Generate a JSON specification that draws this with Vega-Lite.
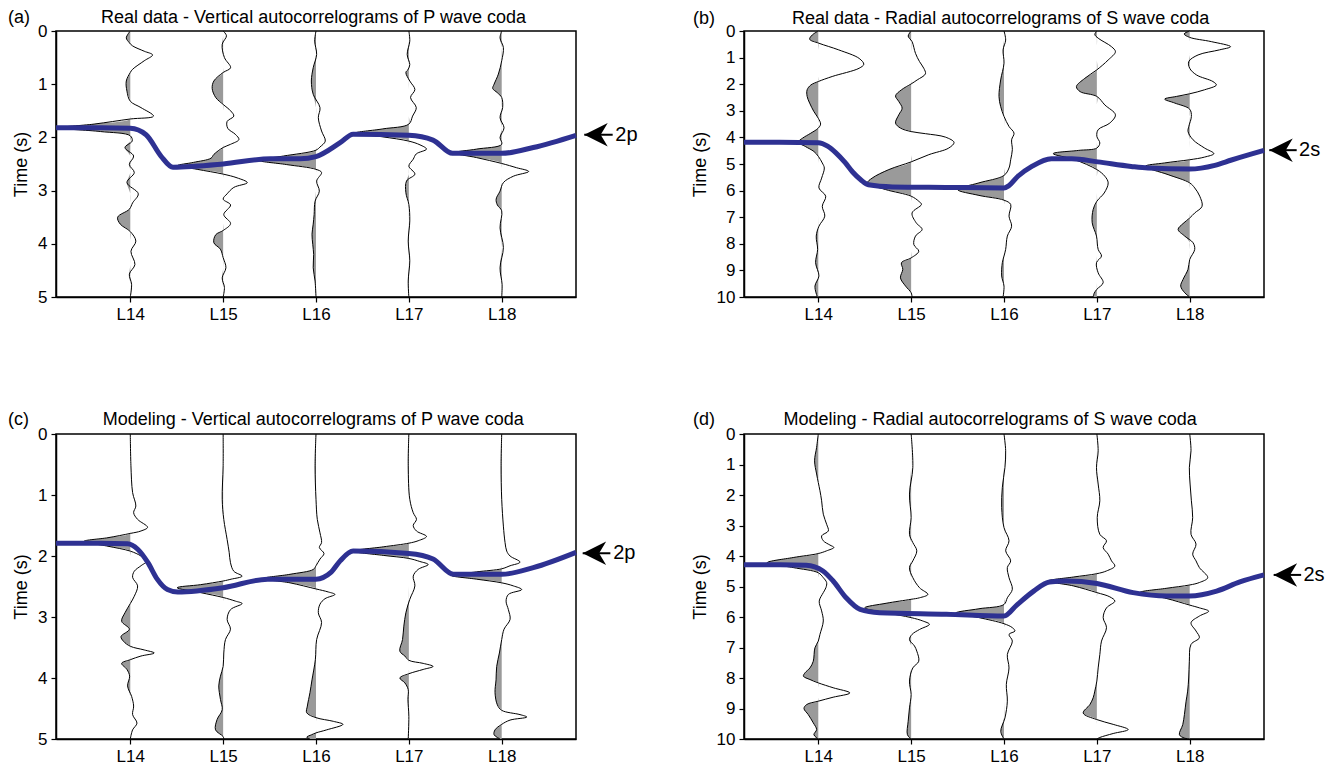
{
"$schema":"https://vega.github.io/schema/vega-lite/v6.json",
"padding":{"left":7,"top":8,"right":5,"bottom":5},
"bounds":"flush",
"columns":2,
"spacing":{"row":137,"column":168},
"config":{
 "font":"Liberation Sans",
 "view":{"stroke":"black","strokeWidth":1.5},
 "axis":{"grid":false,"labelFontSize":17,"labelColor":"black","titleFontSize":18,"titleFontWeight":"normal","titleColor":"black","domainColor":"black","domainWidth":1.5,"tickColor":"black","tickWidth":1.2,"tickSize":5,"labelPadding":4,"titlePadding":7}
},
"datasets":{
"tr":[
{"p":"a","s":14,"t":0,"a":0},{"p":"a","s":14,"t":0.13,"a":-0.043},{"p":"a","s":14,"t":0.22,"a":-0.01},{"p":"a","s":14,"t":0.28,"a":0.025},{"p":"a","s":14,"t":0.38,"a":0.15},{"p":"a","s":14,"t":0.45,"a":0.24},{"p":"a","s":14,"t":0.56,"a":0.15},{"p":"a","s":14,"t":0.72,"a":0.025},{"p":"a","s":14,"t":0.78,"a":0},{"p":"a","s":14,"t":0.94,"a":-0.043},{"p":"a","s":14,"t":1.13,"a":-0.036},{"p":"a","s":14,"t":1.32,"a":0},{"p":"a","s":14,"t":1.44,"a":0.115},{"p":"a","s":14,"t":1.6,"a":0.25},{"p":"a","s":14,"t":1.654,"a":0},{"p":"a","s":14,"t":1.75,"a":-0.39},{"p":"a","s":14,"t":1.82,"a":-0.76},{"p":"a","s":14,"t":1.89,"a":-0.32},{"p":"a","s":14,"t":1.97,"a":0},{"p":"a","s":14,"t":2.07,"a":0.02},{"p":"a","s":14,"t":2.19,"a":-0.057},{"p":"a","s":14,"t":2.35,"a":0.036},{"p":"a","s":14,"t":2.51,"a":-0.01},{"p":"a","s":14,"t":2.66,"a":0.043},{"p":"a","s":14,"t":2.85,"a":-0.036},{"p":"a","s":14,"t":3.06,"a":0.086},{"p":"a","s":14,"t":3.23,"a":0.025},{"p":"a","s":14,"t":3.35,"a":-0.01},{"p":"a","s":14,"t":3.5,"a":-0.136},{"p":"a","s":14,"t":3.63,"a":-0.108},{"p":"a","s":14,"t":3.77,"a":0},{"p":"a","s":14,"t":3.95,"a":0.06},{"p":"a","s":14,"t":4.14,"a":0.007},{"p":"a","s":14,"t":4.39,"a":0.05},{"p":"a","s":14,"t":4.57,"a":-0.01},{"p":"a","s":14,"t":4.76,"a":0.014},{"p":"a","s":14,"t":5,"a":0},
{"p":"a","s":15,"t":0,"a":0},{"p":"a","s":15,"t":0.09,"a":0.036},{"p":"a","s":15,"t":0.25,"a":-0.01},{"p":"a","s":15,"t":0.5,"a":0.014},{"p":"a","s":15,"t":0.69,"a":0.08},{"p":"a","s":15,"t":0.78,"a":0},{"p":"a","s":15,"t":0.94,"a":-0.1},{"p":"a","s":15,"t":1.08,"a":-0.118},{"p":"a","s":15,"t":1.25,"a":-0.08},{"p":"a","s":15,"t":1.38,"a":0},{"p":"a","s":15,"t":1.5,"a":0.08},{"p":"a","s":15,"t":1.6,"a":0.115},{"p":"a","s":15,"t":1.7,"a":0.043},{"p":"a","s":15,"t":1.83,"a":0.05},{"p":"a","s":15,"t":1.94,"a":0.13},{"p":"a","s":15,"t":2.04,"a":0.17},{"p":"a","s":15,"t":2.13,"a":0.08},{"p":"a","s":15,"t":2.19,"a":0},{"p":"a","s":15,"t":2.32,"a":-0.1},{"p":"a","s":15,"t":2.39,"a":-0.13},{"p":"a","s":15,"t":2.47,"a":-0.32},{"p":"a","s":15,"t":2.53,"a":-0.49},{"p":"a","s":15,"t":2.6,"a":-0.28},{"p":"a","s":15,"t":2.69,"a":0},{"p":"a","s":15,"t":2.76,"a":0.15},{"p":"a","s":15,"t":2.85,"a":0.26},{"p":"a","s":15,"t":2.94,"a":0.115},{"p":"a","s":15,"t":3.06,"a":0.043},{"p":"a","s":15,"t":3.16,"a":0},{"p":"a","s":15,"t":3.27,"a":0.08},{"p":"a","s":15,"t":3.45,"a":0.007},{"p":"a","s":15,"t":3.62,"a":0.08},{"p":"a","s":15,"t":3.75,"a":0},{"p":"a","s":15,"t":3.83,"a":-0.08},{"p":"a","s":15,"t":3.98,"a":-0.1},{"p":"a","s":15,"t":4.1,"a":-0.03},{"p":"a","s":15,"t":4.26,"a":0},{"p":"a","s":15,"t":4.45,"a":0.03},{"p":"a","s":15,"t":4.64,"a":-0.01},{"p":"a","s":15,"t":4.82,"a":0.014},{"p":"a","s":15,"t":5,"a":0},
{"p":"a","s":16,"t":0,"a":0},{"p":"a","s":16,"t":0.19,"a":-0.014},{"p":"a","s":16,"t":0.44,"a":0.007},{"p":"a","s":16,"t":0.69,"a":-0.03},{"p":"a","s":16,"t":0.94,"a":-0.05},{"p":"a","s":16,"t":1.19,"a":-0.03},{"p":"a","s":16,"t":1.44,"a":0.043},{"p":"a","s":16,"t":1.63,"a":0.025},{"p":"a","s":16,"t":1.88,"a":0.06},{"p":"a","s":16,"t":2.07,"a":0.1},{"p":"a","s":16,"t":2.18,"a":0.043},{"p":"a","s":16,"t":2.24,"a":0},{"p":"a","s":16,"t":2.35,"a":-0.35},{"p":"a","s":16,"t":2.43,"a":-0.62},{"p":"a","s":16,"t":2.51,"a":-0.32},{"p":"a","s":16,"t":2.6,"a":0},{"p":"a","s":16,"t":2.66,"a":0.06},{"p":"a","s":16,"t":2.82,"a":0.007},{"p":"a","s":16,"t":3.01,"a":0.036},{"p":"a","s":16,"t":3.2,"a":-0.01},{"p":"a","s":16,"t":3.45,"a":-0.02},{"p":"a","s":16,"t":3.63,"a":-0.03},{"p":"a","s":16,"t":3.82,"a":-0.043},{"p":"a","s":16,"t":4.01,"a":-0.035},{"p":"a","s":16,"t":4.2,"a":-0.025},{"p":"a","s":16,"t":4.45,"a":-0.03},{"p":"a","s":16,"t":4.7,"a":-0.01},{"p":"a","s":16,"t":5,"a":0},
{"p":"a","s":17,"t":0,"a":0},{"p":"a","s":17,"t":0.19,"a":0.01},{"p":"a","s":17,"t":0.44,"a":-0.018},{"p":"a","s":17,"t":0.63,"a":0.01},{"p":"a","s":17,"t":0.72,"a":-0.007},{"p":"a","s":17,"t":0.78,"a":-0.032},{"p":"a","s":17,"t":0.94,"a":0.01},{"p":"a","s":17,"t":1.1,"a":0.065},{"p":"a","s":17,"t":1.25,"a":0.018},{"p":"a","s":17,"t":1.44,"a":0.08},{"p":"a","s":17,"t":1.6,"a":0.04},{"p":"a","s":17,"t":1.75,"a":0},{"p":"a","s":17,"t":1.84,"a":-0.28},{"p":"a","s":17,"t":1.92,"a":-0.58},{"p":"a","s":17,"t":1.99,"a":-0.28},{"p":"a","s":17,"t":2.07,"a":0},{"p":"a","s":17,"t":2.14,"a":0.12},{"p":"a","s":17,"t":2.22,"a":0.19},{"p":"a","s":17,"t":2.31,"a":0.08},{"p":"a","s":17,"t":2.41,"a":0.047},{"p":"a","s":17,"t":2.54,"a":0},{"p":"a","s":17,"t":2.69,"a":0.065},{"p":"a","s":17,"t":2.82,"a":-0.025},{"p":"a","s":17,"t":3.04,"a":-0.032},{"p":"a","s":17,"t":3.26,"a":0},{"p":"a","s":17,"t":3.57,"a":0.01},{"p":"a","s":17,"t":3.95,"a":-0.007},{"p":"a","s":17,"t":4.32,"a":0.01},{"p":"a","s":17,"t":4.7,"a":-0.007},{"p":"a","s":17,"t":5,"a":0},
{"p":"a","s":18,"t":0,"a":0},{"p":"a","s":18,"t":0.13,"a":-0.018},{"p":"a","s":18,"t":0.31,"a":0.018},{"p":"a","s":18,"t":0.56,"a":0},{"p":"a","s":18,"t":0.81,"a":-0.036},{"p":"a","s":18,"t":1.0,"a":-0.082},{"p":"a","s":18,"t":1.08,"a":-0.097},{"p":"a","s":18,"t":1.16,"a":-0.047},{"p":"a","s":18,"t":1.25,"a":0},{"p":"a","s":18,"t":1.44,"a":0.01},{"p":"a","s":18,"t":1.63,"a":-0.018},{"p":"a","s":18,"t":1.82,"a":0.025},{"p":"a","s":18,"t":2.0,"a":-0.018},{"p":"a","s":18,"t":2.13,"a":0},{"p":"a","s":18,"t":2.22,"a":-0.27},{"p":"a","s":18,"t":2.29,"a":-0.51},{"p":"a","s":18,"t":2.38,"a":-0.27},{"p":"a","s":18,"t":2.49,"a":0},{"p":"a","s":18,"t":2.57,"a":0.16},{"p":"a","s":18,"t":2.64,"a":0.29},{"p":"a","s":18,"t":2.73,"a":0.125},{"p":"a","s":18,"t":2.85,"a":0.018},{"p":"a","s":18,"t":3.01,"a":-0.018},{"p":"a","s":18,"t":3.16,"a":-0.06},{"p":"a","s":18,"t":3.27,"a":-0.047},{"p":"a","s":18,"t":3.38,"a":0},{"p":"a","s":18,"t":3.7,"a":-0.018},{"p":"a","s":18,"t":4.07,"a":0.018},{"p":"a","s":18,"t":4.45,"a":-0.018},{"p":"a","s":18,"t":4.76,"a":0.004},{"p":"a","s":18,"t":5,"a":0},
{"p":"b","s":14,"t":0,"a":0},{"p":"b","s":14,"t":0.15,"a":-0.065},{"p":"b","s":14,"t":0.31,"a":-0.093},{"p":"b","s":14,"t":0.46,"a":0.007},{"p":"b","s":14,"t":0.71,"a":0.22},{"p":"b","s":14,"t":1.03,"a":0.44},{"p":"b","s":14,"t":1.25,"a":0.49},{"p":"b","s":14,"t":1.4,"a":0.44},{"p":"b","s":14,"t":1.71,"a":0.15},{"p":"b","s":14,"t":1.9,"a":0},{"p":"b","s":14,"t":2.03,"a":-0.08},{"p":"b","s":14,"t":2.21,"a":-0.12},{"p":"b","s":14,"t":2.46,"a":-0.12},{"p":"b","s":14,"t":2.71,"a":-0.093},{"p":"b","s":14,"t":3.03,"a":-0.047},{"p":"b","s":14,"t":3.28,"a":0},{"p":"b","s":14,"t":3.5,"a":0.025},{"p":"b","s":14,"t":3.65,"a":0},{"p":"b","s":14,"t":3.84,"a":-0.08},{"p":"b","s":14,"t":4.03,"a":-0.17},{"p":"b","s":14,"t":4.18,"a":-0.215},{"p":"b","s":14,"t":4.34,"a":-0.14},{"p":"b","s":14,"t":4.53,"a":-0.047},{"p":"b","s":14,"t":4.71,"a":0},{"p":"b","s":14,"t":4.96,"a":0.043},{"p":"b","s":14,"t":5.15,"a":0.065},{"p":"b","s":14,"t":5.53,"a":0.036},{"p":"b","s":14,"t":5.9,"a":0.007},{"p":"b","s":14,"t":6.21,"a":0.08},{"p":"b","s":14,"t":6.59,"a":0.043},{"p":"b","s":14,"t":6.96,"a":0.07},{"p":"b","s":14,"t":7.34,"a":0.007},{"p":"b","s":14,"t":7.71,"a":-0.022},{"p":"b","s":14,"t":8.21,"a":-0.007},{"p":"b","s":14,"t":8.71,"a":-0.029},{"p":"b","s":14,"t":9.21,"a":0.007},{"p":"b","s":14,"t":9.59,"a":-0.036},{"p":"b","s":14,"t":10,"a":-0.01},
{"p":"b","s":15,"t":0,"a":0},{"p":"b","s":15,"t":0.19,"a":-0.032},{"p":"b","s":15,"t":0.4,"a":0.01},{"p":"b","s":15,"t":0.84,"a":0.047},{"p":"b","s":15,"t":1.15,"a":0.09},{"p":"b","s":15,"t":1.4,"a":0.136},{"p":"b","s":15,"t":1.61,"a":0.154},{"p":"b","s":15,"t":1.84,"a":0.065},{"p":"b","s":15,"t":1.99,"a":0},{"p":"b","s":15,"t":2.21,"a":-0.104},{"p":"b","s":15,"t":2.44,"a":-0.168},{"p":"b","s":15,"t":2.65,"a":-0.133},{"p":"b","s":15,"t":2.9,"a":-0.097},{"p":"b","s":15,"t":3.15,"a":-0.133},{"p":"b","s":15,"t":3.46,"a":-0.168},{"p":"b","s":15,"t":3.65,"a":-0.115},{"p":"b","s":15,"t":3.78,"a":0},{"p":"b","s":15,"t":3.86,"a":0.154},{"p":"b","s":15,"t":3.99,"a":0.37},{"p":"b","s":15,"t":4.19,"a":0.462},{"p":"b","s":15,"t":4.4,"a":0.405},{"p":"b","s":15,"t":4.65,"a":0.19},{"p":"b","s":15,"t":4.92,"a":0},{"p":"b","s":15,"t":5.21,"a":-0.24},{"p":"b","s":15,"t":5.53,"a":-0.42},{"p":"b","s":15,"t":5.71,"a":-0.47},{"p":"b","s":15,"t":5.96,"a":-0.276},{"p":"b","s":15,"t":6.21,"a":0},{"p":"b","s":15,"t":6.4,"a":0.082},{"p":"b","s":15,"t":6.52,"a":0.111},{"p":"b","s":15,"t":6.84,"a":0.01},{"p":"b","s":15,"t":7.21,"a":0.054},{"p":"b","s":15,"t":7.46,"a":0.118},{"p":"b","s":15,"t":7.71,"a":0.047},{"p":"b","s":15,"t":8.03,"a":0.029},{"p":"b","s":15,"t":8.28,"a":0.082},{"p":"b","s":15,"t":8.53,"a":0},{"p":"b","s":15,"t":8.71,"a":-0.104},{"p":"b","s":15,"t":8.96,"a":-0.09},{"p":"b","s":15,"t":9.28,"a":-0.115},{"p":"b","s":15,"t":9.59,"a":-0.06},{"p":"b","s":15,"t":9.84,"a":0},{"p":"b","s":15,"t":10,"a":0.01},
{"p":"b","s":16,"t":0,"a":0},{"p":"b","s":16,"t":0.34,"a":0.018},{"p":"b","s":16,"t":0.71,"a":-0.01},{"p":"b","s":16,"t":1.21,"a":0},{"p":"b","s":16,"t":1.84,"a":-0.036},{"p":"b","s":16,"t":2.46,"a":-0.054},{"p":"b","s":16,"t":2.84,"a":-0.036},{"p":"b","s":16,"t":3.21,"a":0},{"p":"b","s":16,"t":3.59,"a":0.054},{"p":"b","s":16,"t":3.84,"a":0.108},{"p":"b","s":16,"t":4.09,"a":0.082},{"p":"b","s":16,"t":4.46,"a":0.09},{"p":"b","s":16,"t":4.84,"a":0.072},{"p":"b","s":16,"t":5.15,"a":0.054},{"p":"b","s":16,"t":5.43,"a":0},{"p":"b","s":16,"t":5.71,"a":-0.27},{"p":"b","s":16,"t":5.96,"a":-0.5},{"p":"b","s":16,"t":6.18,"a":-0.27},{"p":"b","s":16,"t":6.36,"a":0},{"p":"b","s":16,"t":6.52,"a":0.072},{"p":"b","s":16,"t":6.96,"a":0.054},{"p":"b","s":16,"t":7.34,"a":0.082},{"p":"b","s":16,"t":7.71,"a":0.036},{"p":"b","s":16,"t":8.21,"a":0.018},{"p":"b","s":16,"t":8.46,"a":0},{"p":"b","s":16,"t":8.71,"a":-0.018},{"p":"b","s":16,"t":9.21,"a":-0.025},{"p":"b","s":16,"t":9.59,"a":0},{"p":"b","s":16,"t":10,"a":-0.01},
{"p":"b","s":17,"t":0,"a":0},{"p":"b","s":17,"t":0.13,"a":-0.022},{"p":"b","s":17,"t":0.27,"a":0.014},{"p":"b","s":17,"t":0.59,"a":0.158},{"p":"b","s":17,"t":0.78,"a":0.2},{"p":"b","s":17,"t":1.09,"a":0.122},{"p":"b","s":17,"t":1.46,"a":0},{"p":"b","s":17,"t":1.78,"a":-0.13},{"p":"b","s":17,"t":2.09,"a":-0.22},{"p":"b","s":17,"t":2.28,"a":-0.18},{"p":"b","s":17,"t":2.46,"a":0},{"p":"b","s":17,"t":2.78,"a":0.086},{"p":"b","s":17,"t":3.15,"a":0.2},{"p":"b","s":17,"t":3.46,"a":0.14},{"p":"b","s":17,"t":3.71,"a":0.014},{"p":"b","s":17,"t":3.96,"a":0},{"p":"b","s":17,"t":4.21,"a":0.032},{"p":"b","s":17,"t":4.4,"a":0},{"p":"b","s":17,"t":4.49,"a":-0.2},{"p":"b","s":17,"t":4.61,"a":-0.47},{"p":"b","s":17,"t":4.84,"a":-0.237},{"p":"b","s":17,"t":5.21,"a":0},{"p":"b","s":17,"t":5.46,"a":0.086},{"p":"b","s":17,"t":5.71,"a":0.122},{"p":"b","s":17,"t":6.09,"a":0.079},{"p":"b","s":17,"t":6.4,"a":0},{"p":"b","s":17,"t":6.71,"a":-0.04},{"p":"b","s":17,"t":7.21,"a":-0.05},{"p":"b","s":17,"t":7.71,"a":-0.004},{"p":"b","s":17,"t":8.21,"a":0.014},{"p":"b","s":17,"t":8.46,"a":0.05},{"p":"b","s":17,"t":8.71,"a":-0.004},{"p":"b","s":17,"t":9.09,"a":0.014},{"p":"b","s":17,"t":9.46,"a":0.068},{"p":"b","s":17,"t":9.71,"a":0},{"p":"b","s":17,"t":9.86,"a":-0.029},{"p":"b","s":17,"t":10,"a":-0.04},
{"p":"b","s":18,"t":0,"a":0},{"p":"b","s":18,"t":0.11,"a":-0.06},{"p":"b","s":18,"t":0.24,"a":0},{"p":"b","s":18,"t":0.4,"a":0.233},{"p":"b","s":18,"t":0.59,"a":0.44},{"p":"b","s":18,"t":0.71,"a":0.32},{"p":"b","s":18,"t":0.9,"a":0.09},{"p":"b","s":18,"t":1.15,"a":-0.01},{"p":"b","s":18,"t":1.4,"a":0},{"p":"b","s":18,"t":1.65,"a":0.072},{"p":"b","s":18,"t":1.9,"a":0.25},{"p":"b","s":18,"t":2.03,"a":0.287},{"p":"b","s":18,"t":2.21,"a":0.16},{"p":"b","s":18,"t":2.36,"a":0},{"p":"b","s":18,"t":2.46,"a":-0.143},{"p":"b","s":18,"t":2.56,"a":-0.27},{"p":"b","s":18,"t":2.71,"a":-0.16},{"p":"b","s":18,"t":2.94,"a":0},{"p":"b","s":18,"t":3.21,"a":0.018},{"p":"b","s":18,"t":3.59,"a":-0.01},{"p":"b","s":18,"t":3.78,"a":-0.018},{"p":"b","s":18,"t":4.09,"a":0.036},{"p":"b","s":18,"t":4.4,"a":0.16},{"p":"b","s":18,"t":4.61,"a":0.26},{"p":"b","s":18,"t":4.74,"a":0.16},{"p":"b","s":18,"t":4.84,"a":0},{"p":"b","s":18,"t":4.96,"a":-0.27},{"p":"b","s":18,"t":5.09,"a":-0.48},{"p":"b","s":18,"t":5.4,"a":-0.233},{"p":"b","s":18,"t":5.71,"a":0},{"p":"b","s":18,"t":5.9,"a":0.054},{"p":"b","s":18,"t":6.21,"a":0.108},{"p":"b","s":18,"t":6.59,"a":0.133},{"p":"b","s":18,"t":6.84,"a":0.054},{"p":"b","s":18,"t":7.03,"a":0},{"p":"b","s":18,"t":7.24,"a":-0.072},{"p":"b","s":18,"t":7.46,"a":-0.125},{"p":"b","s":18,"t":7.71,"a":-0.054},{"p":"b","s":18,"t":7.96,"a":0.036},{"p":"b","s":18,"t":8.21,"a":0.054},{"p":"b","s":18,"t":8.59,"a":0},{"p":"b","s":18,"t":8.96,"a":-0.018},{"p":"b","s":18,"t":9.34,"a":-0.072},{"p":"b","s":18,"t":9.59,"a":-0.097},{"p":"b","s":18,"t":9.84,"a":-0.054},{"p":"b","s":18,"t":10,"a":0},
{"p":"c","s":14,"t":0,"a":0},{"p":"c","s":14,"t":0.52,"a":0.007},{"p":"c","s":14,"t":0.96,"a":0.025},{"p":"c","s":14,"t":1.18,"a":0.06},{"p":"c","s":14,"t":1.29,"a":0.036},{"p":"c","s":14,"t":1.4,"a":0.079},{"p":"c","s":14,"t":1.53,"a":0.186},{"p":"c","s":14,"t":1.59,"a":0.115},{"p":"c","s":14,"t":1.63,"a":0},{"p":"c","s":14,"t":1.7,"a":-0.24},{"p":"c","s":14,"t":1.76,"a":-0.5},{"p":"c","s":14,"t":1.84,"a":-0.24},{"p":"c","s":14,"t":1.92,"a":0},{"p":"c","s":14,"t":2.0,"a":0.115},{"p":"c","s":14,"t":2.08,"a":0.18},{"p":"c","s":14,"t":2.16,"a":0.115},{"p":"c","s":14,"t":2.25,"a":0.043},{"p":"c","s":14,"t":2.35,"a":0.025},{"p":"c","s":14,"t":2.49,"a":0.079},{"p":"c","s":14,"t":2.66,"a":0.043},{"p":"c","s":14,"t":2.78,"a":0},{"p":"c","s":14,"t":2.93,"a":-0.057},{"p":"c","s":14,"t":3.07,"a":-0.093},{"p":"c","s":14,"t":3.2,"a":-0.01},{"p":"c","s":14,"t":3.32,"a":-0.1},{"p":"c","s":14,"t":3.4,"a":-0.072},{"p":"c","s":14,"t":3.48,"a":0},{"p":"c","s":14,"t":3.54,"a":0.15},{"p":"c","s":14,"t":3.59,"a":0.258},{"p":"c","s":14,"t":3.64,"a":0.115},{"p":"c","s":14,"t":3.7,"a":0},{"p":"c","s":14,"t":3.76,"a":-0.093},{"p":"c","s":14,"t":3.86,"a":-0.036},{"p":"c","s":14,"t":3.97,"a":-0.007},{"p":"c","s":14,"t":4.13,"a":-0.029},{"p":"c","s":14,"t":4.3,"a":0.014},{"p":"c","s":14,"t":4.46,"a":0.036},{"p":"c","s":14,"t":4.6,"a":0.025},{"p":"c","s":14,"t":4.74,"a":0.072},{"p":"c","s":14,"t":4.85,"a":0.025},{"p":"c","s":14,"t":5,"a":0},
{"p":"c","s":15,"t":0,"a":0},{"p":"c","s":15,"t":0.52,"a":0},{"p":"c","s":15,"t":1.07,"a":-0.01},{"p":"c","s":15,"t":1.4,"a":0.007},{"p":"c","s":15,"t":1.73,"a":0.043},{"p":"c","s":15,"t":1.94,"a":0.065},{"p":"c","s":15,"t":2.11,"a":0.079},{"p":"c","s":15,"t":2.25,"a":0.115},{"p":"c","s":15,"t":2.33,"a":0.204},{"p":"c","s":15,"t":2.38,"a":0.086},{"p":"c","s":15,"t":2.41,"a":0},{"p":"c","s":15,"t":2.47,"a":-0.244},{"p":"c","s":15,"t":2.52,"a":-0.495},{"p":"c","s":15,"t":2.6,"a":-0.244},{"p":"c","s":15,"t":2.68,"a":0},{"p":"c","s":15,"t":2.74,"a":0.133},{"p":"c","s":15,"t":2.78,"a":0.204},{"p":"c","s":15,"t":2.88,"a":0.079},{"p":"c","s":15,"t":3.04,"a":0.043},{"p":"c","s":15,"t":3.2,"a":0.079},{"p":"c","s":15,"t":3.37,"a":0.025},{"p":"c","s":15,"t":3.59,"a":0.007},{"p":"c","s":15,"t":3.81,"a":0},{"p":"c","s":15,"t":3.97,"a":-0.029},{"p":"c","s":15,"t":4.13,"a":-0.047},{"p":"c","s":15,"t":4.35,"a":-0.029},{"p":"c","s":15,"t":4.52,"a":-0.01},{"p":"c","s":15,"t":4.68,"a":-0.065},{"p":"c","s":15,"t":4.85,"a":-0.082},{"p":"c","s":15,"t":4.96,"a":0},{"p":"c","s":15,"t":5,"a":0.007},
{"p":"c","s":16,"t":0,"a":0},{"p":"c","s":16,"t":0.52,"a":-0.01},{"p":"c","s":16,"t":1.07,"a":0},{"p":"c","s":16,"t":1.4,"a":0.014},{"p":"c","s":16,"t":1.62,"a":0.043},{"p":"c","s":16,"t":1.78,"a":0.06},{"p":"c","s":16,"t":1.86,"a":0.036},{"p":"c","s":16,"t":1.96,"a":0.086},{"p":"c","s":16,"t":2.05,"a":0.043},{"p":"c","s":16,"t":2.16,"a":0},{"p":"c","s":16,"t":2.22,"a":-0.029},{"p":"c","s":16,"t":2.3,"a":-0.28},{"p":"c","s":16,"t":2.37,"a":-0.566},{"p":"c","s":16,"t":2.44,"a":-0.28},{"p":"c","s":16,"t":2.54,"a":0},{"p":"c","s":16,"t":2.59,"a":0.133},{"p":"c","s":16,"t":2.63,"a":0.204},{"p":"c","s":16,"t":2.7,"a":0.097},{"p":"c","s":16,"t":2.79,"a":0.043},{"p":"c","s":16,"t":2.93,"a":0.025},{"p":"c","s":16,"t":3.09,"a":0.06},{"p":"c","s":16,"t":3.37,"a":0.007},{"p":"c","s":16,"t":3.7,"a":-0.007},{"p":"c","s":16,"t":4.03,"a":-0.043},{"p":"c","s":16,"t":4.24,"a":-0.065},{"p":"c","s":16,"t":4.46,"a":-0.093},{"p":"c","s":16,"t":4.57,"a":-0.1},{"p":"c","s":16,"t":4.65,"a":0},{"p":"c","s":16,"t":4.71,"a":0.186},{"p":"c","s":16,"t":4.76,"a":0.29},{"p":"c","s":16,"t":4.85,"a":0.115},{"p":"c","s":16,"t":4.9,"a":0},{"p":"c","s":16,"t":4.93,"a":-0.047},{"p":"c","s":16,"t":4.97,"a":-0.1},{"p":"c","s":16,"t":5,"a":-0.065},
{"p":"c","s":17,"t":0,"a":0},{"p":"c","s":17,"t":0.52,"a":-0.007},{"p":"c","s":17,"t":1.07,"a":0.01},{"p":"c","s":17,"t":1.29,"a":0.047},{"p":"c","s":17,"t":1.4,"a":0.082},{"p":"c","s":17,"t":1.5,"a":0.047},{"p":"c","s":17,"t":1.59,"a":0.082},{"p":"c","s":17,"t":1.68,"a":0.19},{"p":"c","s":17,"t":1.75,"a":0.1},{"p":"c","s":17,"t":1.79,"a":0},{"p":"c","s":17,"t":1.85,"a":-0.276},{"p":"c","s":17,"t":1.92,"a":-0.6},{"p":"c","s":17,"t":1.99,"a":-0.276},{"p":"c","s":17,"t":2.04,"a":0},{"p":"c","s":17,"t":2.09,"a":0.118},{"p":"c","s":17,"t":2.14,"a":0.208},{"p":"c","s":17,"t":2.22,"a":0.1},{"p":"c","s":17,"t":2.33,"a":0.047},{"p":"c","s":17,"t":2.49,"a":0.065},{"p":"c","s":17,"t":2.71,"a":0.01},{"p":"c","s":17,"t":2.93,"a":-0.032},{"p":"c","s":17,"t":3.15,"a":-0.054},{"p":"c","s":17,"t":3.37,"a":-0.068},{"p":"c","s":17,"t":3.56,"a":-0.097},{"p":"c","s":17,"t":3.64,"a":-0.043},{"p":"c","s":17,"t":3.71,"a":0},{"p":"c","s":17,"t":3.76,"a":0.154},{"p":"c","s":17,"t":3.81,"a":0.26},{"p":"c","s":17,"t":3.86,"a":0.154},{"p":"c","s":17,"t":3.93,"a":0},{"p":"c","s":17,"t":4.0,"a":-0.097},{"p":"c","s":17,"t":4.08,"a":-0.043},{"p":"c","s":17,"t":4.19,"a":-0.007},{"p":"c","s":17,"t":4.35,"a":-0.01},{"p":"c","s":17,"t":4.63,"a":0},{"p":"c","s":17,"t":5,"a":-0.007},
{"p":"c","s":18,"t":0,"a":0},{"p":"c","s":18,"t":0.52,"a":-0.007},{"p":"c","s":18,"t":1.07,"a":0},{"p":"c","s":18,"t":1.51,"a":0.018},{"p":"c","s":18,"t":1.78,"a":0.036},{"p":"c","s":18,"t":1.92,"a":0.054},{"p":"c","s":18,"t":2.0,"a":0.09},{"p":"c","s":18,"t":2.1,"a":0.197},{"p":"c","s":18,"t":2.16,"a":0.09},{"p":"c","s":18,"t":2.21,"a":0},{"p":"c","s":18,"t":2.26,"a":-0.27},{"p":"c","s":18,"t":2.32,"a":-0.54},{"p":"c","s":18,"t":2.38,"a":-0.27},{"p":"c","s":18,"t":2.44,"a":0},{"p":"c","s":18,"t":2.49,"a":0.125},{"p":"c","s":18,"t":2.55,"a":0.215},{"p":"c","s":18,"t":2.63,"a":0.072},{"p":"c","s":18,"t":2.74,"a":0.047},{"p":"c","s":18,"t":2.88,"a":0.072},{"p":"c","s":18,"t":3.04,"a":0.09},{"p":"c","s":18,"t":3.2,"a":0.025},{"p":"c","s":18,"t":3.37,"a":0},{"p":"c","s":18,"t":3.59,"a":-0.025},{"p":"c","s":18,"t":3.81,"a":-0.054},{"p":"c","s":18,"t":4.03,"a":-0.061},{"p":"c","s":18,"t":4.24,"a":-0.072},{"p":"c","s":18,"t":4.44,"a":-0.047},{"p":"c","s":18,"t":4.53,"a":0},{"p":"c","s":18,"t":4.6,"a":0.197},{"p":"c","s":18,"t":4.64,"a":0.27},{"p":"c","s":18,"t":4.69,"a":0.09},{"p":"c","s":18,"t":4.76,"a":0},{"p":"c","s":18,"t":4.85,"a":-0.072},{"p":"c","s":18,"t":4.93,"a":-0.082},{"p":"c","s":18,"t":5,"a":-0.018},
{"p":"d","s":14,"t":0,"a":0},{"p":"d","s":14,"t":0.44,"a":-0.018},{"p":"d","s":14,"t":0.88,"a":-0.04},{"p":"d","s":14,"t":1.31,"a":-0.018},{"p":"d","s":14,"t":1.59,"a":0},{"p":"d","s":14,"t":1.86,"a":0.018},{"p":"d","s":14,"t":2.19,"a":0.036},{"p":"d","s":14,"t":2.63,"a":0.054},{"p":"d","s":14,"t":2.96,"a":0.09},{"p":"d","s":14,"t":3.18,"a":0.108},{"p":"d","s":14,"t":3.34,"a":0.036},{"p":"d","s":14,"t":3.5,"a":0.054},{"p":"d","s":14,"t":3.64,"a":0.125},{"p":"d","s":14,"t":3.72,"a":0.168},{"p":"d","s":14,"t":3.83,"a":0.09},{"p":"d","s":14,"t":3.92,"a":0},{"p":"d","s":14,"t":4.05,"a":-0.27},{"p":"d","s":14,"t":4.22,"a":-0.55},{"p":"d","s":14,"t":4.38,"a":-0.27},{"p":"d","s":14,"t":4.55,"a":0},{"p":"d","s":14,"t":4.71,"a":0.054},{"p":"d","s":14,"t":4.87,"a":0.09},{"p":"d","s":14,"t":5.04,"a":0.082},{"p":"d","s":14,"t":5.2,"a":0.054},{"p":"d","s":14,"t":5.48,"a":0.01},{"p":"d","s":14,"t":5.8,"a":0.036},{"p":"d","s":14,"t":6.13,"a":0.054},{"p":"d","s":14,"t":6.57,"a":0.018},{"p":"d","s":14,"t":6.79,"a":0},{"p":"d","s":14,"t":7.01,"a":-0.036},{"p":"d","s":14,"t":7.45,"a":-0.054},{"p":"d","s":14,"t":7.67,"a":-0.09},{"p":"d","s":14,"t":7.83,"a":-0.143},{"p":"d","s":14,"t":7.94,"a":-0.16},{"p":"d","s":14,"t":8.05,"a":-0.09},{"p":"d","s":14,"t":8.16,"a":0},{"p":"d","s":14,"t":8.32,"a":0.16},{"p":"d","s":14,"t":8.49,"a":0.34},{"p":"d","s":14,"t":8.63,"a":0.16},{"p":"d","s":14,"t":8.76,"a":0},{"p":"d","s":14,"t":8.87,"a":-0.125},{"p":"d","s":14,"t":9.0,"a":-0.154},{"p":"d","s":14,"t":9.2,"a":-0.108},{"p":"d","s":14,"t":9.47,"a":-0.054},{"p":"d","s":14,"t":9.69,"a":-0.018},{"p":"d","s":14,"t":9.86,"a":-0.047},{"p":"d","s":14,"t":10,"a":0},
{"p":"d","s":15,"t":0,"a":0},{"p":"d","s":15,"t":1.1,"a":0.018},{"p":"d","s":15,"t":1.97,"a":-0.018},{"p":"d","s":15,"t":2.74,"a":0},{"p":"d","s":15,"t":3.29,"a":-0.018},{"p":"d","s":15,"t":3.56,"a":0.018},{"p":"d","s":15,"t":3.83,"a":0.061},{"p":"d","s":15,"t":4.16,"a":0.018},{"p":"d","s":15,"t":4.38,"a":-0.018},{"p":"d","s":15,"t":4.71,"a":0.018},{"p":"d","s":15,"t":5.04,"a":0.09},{"p":"d","s":15,"t":5.26,"a":0.18},{"p":"d","s":15,"t":5.37,"a":0.09},{"p":"d","s":15,"t":5.42,"a":0},{"p":"d","s":15,"t":5.55,"a":-0.27},{"p":"d","s":15,"t":5.7,"a":-0.5},{"p":"d","s":15,"t":5.86,"a":-0.27},{"p":"d","s":15,"t":6.02,"a":0},{"p":"d","s":15,"t":6.13,"a":0.125},{"p":"d","s":15,"t":6.24,"a":0.197},{"p":"d","s":15,"t":6.41,"a":0.09},{"p":"d","s":15,"t":6.57,"a":0.01},{"p":"d","s":15,"t":6.74,"a":-0.018},{"p":"d","s":15,"t":6.95,"a":0.036},{"p":"d","s":15,"t":7.12,"a":0.061},{"p":"d","s":15,"t":7.45,"a":0.082},{"p":"d","s":15,"t":7.67,"a":0.018},{"p":"d","s":15,"t":8.1,"a":-0.018},{"p":"d","s":15,"t":8.54,"a":0},{"p":"d","s":15,"t":8.98,"a":-0.018},{"p":"d","s":15,"t":9.42,"a":-0.032},{"p":"d","s":15,"t":9.86,"a":-0.04},{"p":"d","s":15,"t":10,"a":0},
{"p":"d","s":16,"t":0,"a":0},{"p":"d","s":16,"t":0.55,"a":0.018},{"p":"d","s":16,"t":1.1,"a":0.01},{"p":"d","s":16,"t":1.75,"a":-0.018},{"p":"d","s":16,"t":2.41,"a":-0.025},{"p":"d","s":16,"t":3.07,"a":0},{"p":"d","s":16,"t":3.5,"a":0.054},{"p":"d","s":16,"t":3.83,"a":0.018},{"p":"d","s":16,"t":4.16,"a":0.072},{"p":"d","s":16,"t":4.38,"a":0.036},{"p":"d","s":16,"t":4.71,"a":0.054},{"p":"d","s":16,"t":5.09,"a":0.09},{"p":"d","s":16,"t":5.37,"a":0.036},{"p":"d","s":16,"t":5.59,"a":0},{"p":"d","s":16,"t":5.73,"a":-0.27},{"p":"d","s":16,"t":5.87,"a":-0.52},{"p":"d","s":16,"t":6.02,"a":-0.27},{"p":"d","s":16,"t":6.22,"a":0},{"p":"d","s":16,"t":6.35,"a":0.09},{"p":"d","s":16,"t":6.46,"a":0.118},{"p":"d","s":16,"t":6.57,"a":0.054},{"p":"d","s":16,"t":6.79,"a":0.09},{"p":"d","s":16,"t":7.23,"a":0.036},{"p":"d","s":16,"t":7.67,"a":0.054},{"p":"d","s":16,"t":8.21,"a":0.025},{"p":"d","s":16,"t":8.76,"a":0.036},{"p":"d","s":16,"t":9.31,"a":0.01},{"p":"d","s":16,"t":9.75,"a":-0.035},{"p":"d","s":16,"t":10,"a":0},
{"p":"d","s":17,"t":0,"a":0},{"p":"d","s":17,"t":0.55,"a":0.014},{"p":"d","s":17,"t":1.1,"a":-0.004},{"p":"d","s":17,"t":1.64,"a":0.014},{"p":"d","s":17,"t":2.19,"a":0.032},{"p":"d","s":17,"t":2.74,"a":0.004},{"p":"d","s":17,"t":3.29,"a":0.032},{"p":"d","s":17,"t":3.5,"a":0.104},{"p":"d","s":17,"t":3.72,"a":0.068},{"p":"d","s":17,"t":3.94,"a":0.122},{"p":"d","s":17,"t":4.16,"a":0.158},{"p":"d","s":17,"t":4.33,"a":0.194},{"p":"d","s":17,"t":4.49,"a":0.104},{"p":"d","s":17,"t":4.58,"a":0},{"p":"d","s":17,"t":4.69,"a":-0.254},{"p":"d","s":17,"t":4.82,"a":-0.523},{"p":"d","s":17,"t":4.98,"a":-0.254},{"p":"d","s":17,"t":5.2,"a":0},{"p":"d","s":17,"t":5.34,"a":0.14},{"p":"d","s":17,"t":5.48,"a":0.194},{"p":"d","s":17,"t":5.7,"a":0.104},{"p":"d","s":17,"t":6.02,"a":0.068},{"p":"d","s":17,"t":6.35,"a":0.104},{"p":"d","s":17,"t":6.79,"a":0.05},{"p":"d","s":17,"t":7.23,"a":0.032},{"p":"d","s":17,"t":7.67,"a":0.014},{"p":"d","s":17,"t":8.1,"a":0},{"p":"d","s":17,"t":8.43,"a":-0.022},{"p":"d","s":17,"t":8.65,"a":-0.04},{"p":"d","s":17,"t":8.87,"a":-0.075},{"p":"d","s":17,"t":9.15,"a":-0.147},{"p":"d","s":17,"t":9.36,"a":-0.004},{"p":"d","s":17,"t":9.52,"a":0.176},{"p":"d","s":17,"t":9.69,"a":0.337},{"p":"d","s":17,"t":9.82,"a":0.176},{"p":"d","s":17,"t":9.95,"a":0.032},{"p":"d","s":17,"t":10,"a":0},
{"p":"d","s":18,"t":0,"a":0},{"p":"d","s":18,"t":0.55,"a":0.014},{"p":"d","s":18,"t":1.1,"a":-0.004},{"p":"d","s":18,"t":1.64,"a":0.004},{"p":"d","s":18,"t":2.19,"a":0.018},{"p":"d","s":18,"t":2.74,"a":0.032},{"p":"d","s":18,"t":3.29,"a":0.014},{"p":"d","s":18,"t":3.61,"a":0.068},{"p":"d","s":18,"t":3.94,"a":0.032},{"p":"d","s":18,"t":4.16,"a":0.068},{"p":"d","s":18,"t":4.38,"a":0.104},{"p":"d","s":18,"t":4.71,"a":0.194},{"p":"d","s":18,"t":4.87,"a":0.104},{"p":"d","s":18,"t":4.95,"a":0},{"p":"d","s":18,"t":5.06,"a":-0.254},{"p":"d","s":18,"t":5.2,"a":-0.54},{"p":"d","s":18,"t":5.39,"a":-0.254},{"p":"d","s":18,"t":5.61,"a":0},{"p":"d","s":18,"t":5.7,"a":0.104},{"p":"d","s":18,"t":5.81,"a":0.204},{"p":"d","s":18,"t":5.97,"a":0.104},{"p":"d","s":18,"t":6.19,"a":0.014},{"p":"d","s":18,"t":6.46,"a":0.068},{"p":"d","s":18,"t":6.68,"a":0.104},{"p":"d","s":18,"t":6.9,"a":0.014},{"p":"d","s":18,"t":7.45,"a":-0.004},{"p":"d","s":18,"t":8.0,"a":-0.011},{"p":"d","s":18,"t":8.43,"a":-0.022},{"p":"d","s":18,"t":8.76,"a":-0.039},{"p":"d","s":18,"t":9.2,"a":-0.057},{"p":"d","s":18,"t":9.53,"a":-0.075},{"p":"d","s":18,"t":9.86,"a":-0.111},{"p":"d","s":18,"t":9.97,"a":-0.057},{"p":"d","s":18,"t":10,"a":0}
],
"bl":[
{"p":"a","x":13.2,"t":1.82},{"p":"a","x":13.69,"t":1.82},{"p":"a","x":14.0,"t":1.83},{"p":"a","x":14.17,"t":1.95},{"p":"a","x":14.33,"t":2.35},{"p":"a","x":14.46,"t":2.56},{"p":"a","x":15.0,"t":2.5},{"p":"a","x":15.51,"t":2.4},{"p":"a","x":15.83,"t":2.4},{"p":"a","x":16.0,"t":2.36},{"p":"a","x":16.26,"t":2.1},{"p":"a","x":16.4,"t":1.94},{"p":"a","x":17.0,"t":1.96},{"p":"a","x":17.26,"t":2.05},{"p":"a","x":17.47,"t":2.3},{"p":"a","x":18.0,"t":2.3},{"p":"a","x":18.34,"t":2.19},{"p":"a","x":18.8,"t":1.96},
{"p":"b","x":13.2,"t":4.18},{"p":"b","x":13.58,"t":4.18},{"p":"b","x":14.0,"t":4.2},{"p":"b","x":14.1,"t":4.33},{"p":"b","x":14.19,"t":4.58},{"p":"b","x":14.29,"t":4.95},{"p":"b","x":14.37,"t":5.3},{"p":"b","x":14.46,"t":5.6},{"p":"b","x":14.54,"t":5.78},{"p":"b","x":14.8,"t":5.86},{"p":"b","x":15.37,"t":5.88},{"p":"b","x":16.0,"t":5.9},{"p":"b","x":16.05,"t":5.82},{"p":"b","x":16.15,"t":5.46},{"p":"b","x":16.3,"t":5.09},{"p":"b","x":16.51,"t":4.8},{"p":"b","x":16.73,"t":4.8},{"p":"b","x":17.01,"t":4.92},{"p":"b","x":17.37,"t":5.09},{"p":"b","x":17.55,"t":5.15},{"p":"b","x":18.0,"t":5.19},{"p":"b","x":18.27,"t":5.05},{"p":"b","x":18.45,"t":4.85},{"p":"b","x":18.8,"t":4.49},
{"p":"c","x":13.2,"t":1.79},{"p":"c","x":13.68,"t":1.79},{"p":"c","x":13.97,"t":1.8},{"p":"c","x":14.08,"t":1.89},{"p":"c","x":14.19,"t":2.11},{"p":"c","x":14.29,"t":2.38},{"p":"c","x":14.4,"t":2.55},{"p":"c","x":14.51,"t":2.59},{"p":"c","x":15.0,"t":2.52},{"p":"c","x":15.48,"t":2.38},{"p":"c","x":16.0,"t":2.38},{"p":"c","x":16.16,"t":2.27},{"p":"c","x":16.26,"t":2.08},{"p":"c","x":16.4,"t":1.92},{"p":"c","x":17.0,"t":1.96},{"p":"c","x":17.26,"t":2.05},{"p":"c","x":17.48,"t":2.3},{"p":"c","x":18.0,"t":2.3},{"p":"c","x":18.34,"t":2.19},{"p":"c","x":18.8,"t":1.94},
{"p":"d","x":13.2,"t":4.29},{"p":"d","x":13.59,"t":4.29},{"p":"d","x":13.87,"t":4.3},{"p":"d","x":14.05,"t":4.49},{"p":"d","x":14.16,"t":4.82},{"p":"d","x":14.3,"t":5.37},{"p":"d","x":14.45,"t":5.75},{"p":"d","x":14.66,"t":5.86},{"p":"d","x":15.38,"t":5.91},{"p":"d","x":16.0,"t":5.97},{"p":"d","x":16.14,"t":5.6},{"p":"d","x":16.32,"t":5.15},{"p":"d","x":16.49,"t":4.85},{"p":"d","x":16.67,"t":4.82},{"p":"d","x":17.0,"t":4.9},{"p":"d","x":17.39,"t":5.2},{"p":"d","x":17.75,"t":5.31},{"p":"d","x":18.0,"t":5.31},{"p":"d","x":18.29,"t":5.15},{"p":"d","x":18.54,"t":4.85},{"p":"d","x":18.8,"t":4.62}
],
"an":[
{"p":"a","x":18.889,"x2":19.195,"tx":19.223,"t":1.95,"lab":"2p"},
{"p":"b","x":18.857,"x2":19.152,"tx":19.177,"t":4.48,"lab":"2s"},
{"p":"c","x":18.872,"x2":19.17,"tx":19.2,"t":1.955,"lab":"2p"},
{"p":"d","x":18.904,"x2":19.2,"tx":19.225,"t":4.62,"lab":"2s"}
],
"lt":[
{"p":"a","x":12.683,"t":-0.15,"lab":"(a)"},
{"p":"b","x":12.65,"t":-0.27,"lab":"(b)"},
{"p":"c","x":12.683,"t":-0.148,"lab":"(c)"},
{"p":"d","x":12.65,"t":-0.295,"lab":"(d)"}
],
"ti":[
{"p":"a","x":15.973,"t":-0.15,"lab":"Real data - Vertical autocorrelograms of P wave coda"},
{"p":"b","x":15.964,"t":-0.27,"lab":"Real data - Radial autocorrelograms of S wave coda"},
{"p":"c","x":15.97,"t":-0.148,"lab":"Modeling - Vertical autocorrelograms of P wave coda"},
{"p":"d","x":15.85,"t":-0.295,"lab":"Modeling - Radial autocorrelograms of S wave coda"}
]
},
"concat":[
{"width":520,"height":266,
 "encoding":{
  "x":{"field":"x","type":"quantitative","scale":{"domain":[13.2,18.8],"nice":false,"zero":false},"axis":{"values":[14,15,16,17,18],"labelExpr":"'L'+datum.value","title":null}},
  "y":{"field":"t","type":"quantitative","scale":{"domain":[0,5],"reverse":true,"nice":false,"zero":false},"axis":{"values":[0,1,2,3,4,5],"title":"Time (s)"}}},
 "layer":[
  {"data":{"name":"tr"},"transform":[{"filter":"datum.p=='a'"},{"calculate":"datum.s+min(datum.a,0)","as":"x"}],"mark":{"type":"area","orient":"horizontal","color":"#9a9a9a","interpolate":"catmull-rom"},"encoding":{"x2":{"field":"s"},"detail":{"field":"s","type":"nominal"}}},
  {"data":{"name":"tr"},"transform":[{"filter":"datum.p=='a'"},{"calculate":"datum.s+datum.a","as":"x"}],"mark":{"type":"line","color":"black","strokeWidth":1,"interpolate":"catmull-rom"},"encoding":{"detail":{"field":"s","type":"nominal"},"order":{"field":"t","type":"quantitative"}}},
  {"data":{"name":"bl"},"transform":[{"filter":"datum.p=='a'"}],"mark":{"type":"line","color":"#2e3192","strokeWidth":5,"interpolate":"monotone"},"encoding":{}},
  {"data":{"name":"an"},"transform":[{"filter":"datum.p=='a'"}],"mark":{"type":"rule","color":"black","strokeWidth":2},"encoding":{"x2":{"field":"x2"}}},
  {"data":{"name":"an"},"transform":[{"filter":"datum.p=='a'"}],"mark":{"type":"point","shape":"M 0 0 L 2 -1 L 1.4 0 L 2 1 Z","filled":true,"color":"black","opacity":1,"size":550},"encoding":{}},
  {"data":{"name":"an"},"transform":[{"filter":"datum.p=='a'"}],"mark":{"type":"text","align":"left","baseline":"middle","fontSize":20},"encoding":{"x":{"field":"tx","type":"quantitative"},"text":{"field":"lab"}}},
  {"data":{"name":"lt"},"transform":[{"filter":"datum.p=='a'"}],"mark":{"type":"text","align":"left","baseline":"alphabetic","fontSize":18},"encoding":{"text":{"field":"lab"}}},
  {"data":{"name":"ti"},"transform":[{"filter":"datum.p=='a'"}],"mark":{"type":"text","align":"center","baseline":"alphabetic","fontSize":18},"encoding":{"text":{"field":"lab"}}}
 ]},
{"width":520,"height":266,
 "encoding":{
  "x":{"field":"x","type":"quantitative","scale":{"domain":[13.2,18.8],"nice":false,"zero":false},"axis":{"values":[14,15,16,17,18],"labelExpr":"'L'+datum.value","title":null}},
  "y":{"field":"t","type":"quantitative","scale":{"domain":[0,10],"reverse":true,"nice":false,"zero":false},"axis":{"values":[0,1,2,3,4,5,6,7,8,9,10],"title":"Time (s)"}}},
 "layer":[
  {"data":{"name":"tr"},"transform":[{"filter":"datum.p=='b'"},{"calculate":"datum.s+min(datum.a,0)","as":"x"}],"mark":{"type":"area","orient":"horizontal","color":"#9a9a9a","interpolate":"catmull-rom"},"encoding":{"x2":{"field":"s"},"detail":{"field":"s","type":"nominal"}}},
  {"data":{"name":"tr"},"transform":[{"filter":"datum.p=='b'"},{"calculate":"datum.s+datum.a","as":"x"}],"mark":{"type":"line","color":"black","strokeWidth":1,"interpolate":"catmull-rom"},"encoding":{"detail":{"field":"s","type":"nominal"},"order":{"field":"t","type":"quantitative"}}},
  {"data":{"name":"bl"},"transform":[{"filter":"datum.p=='b'"}],"mark":{"type":"line","color":"#2e3192","strokeWidth":5,"interpolate":"monotone"},"encoding":{}},
  {"data":{"name":"an"},"transform":[{"filter":"datum.p=='b'"}],"mark":{"type":"rule","color":"black","strokeWidth":2},"encoding":{"x2":{"field":"x2"}}},
  {"data":{"name":"an"},"transform":[{"filter":"datum.p=='b'"}],"mark":{"type":"point","shape":"M 0 0 L 2 -1 L 1.4 0 L 2 1 Z","filled":true,"color":"black","opacity":1,"size":550},"encoding":{}},
  {"data":{"name":"an"},"transform":[{"filter":"datum.p=='b'"}],"mark":{"type":"text","align":"left","baseline":"middle","fontSize":20},"encoding":{"x":{"field":"tx","type":"quantitative"},"text":{"field":"lab"}}},
  {"data":{"name":"lt"},"transform":[{"filter":"datum.p=='b'"}],"mark":{"type":"text","align":"left","baseline":"alphabetic","fontSize":18},"encoding":{"text":{"field":"lab"}}},
  {"data":{"name":"ti"},"transform":[{"filter":"datum.p=='b'"}],"mark":{"type":"text","align":"center","baseline":"alphabetic","fontSize":18},"encoding":{"text":{"field":"lab"}}}
 ]},
{"width":520,"height":305,
 "encoding":{
  "x":{"field":"x","type":"quantitative","scale":{"domain":[13.2,18.8],"nice":false,"zero":false},"axis":{"values":[14,15,16,17,18],"labelExpr":"'L'+datum.value","title":null}},
  "y":{"field":"t","type":"quantitative","scale":{"domain":[0,5],"reverse":true,"nice":false,"zero":false},"axis":{"values":[0,1,2,3,4,5],"title":"Time (s)"}}},
 "layer":[
  {"data":{"name":"tr"},"transform":[{"filter":"datum.p=='c'"},{"calculate":"datum.s+min(datum.a,0)","as":"x"}],"mark":{"type":"area","orient":"horizontal","color":"#9a9a9a","interpolate":"catmull-rom"},"encoding":{"x2":{"field":"s"},"detail":{"field":"s","type":"nominal"}}},
  {"data":{"name":"tr"},"transform":[{"filter":"datum.p=='c'"},{"calculate":"datum.s+datum.a","as":"x"}],"mark":{"type":"line","color":"black","strokeWidth":1,"interpolate":"catmull-rom"},"encoding":{"detail":{"field":"s","type":"nominal"},"order":{"field":"t","type":"quantitative"}}},
  {"data":{"name":"bl"},"transform":[{"filter":"datum.p=='c'"}],"mark":{"type":"line","color":"#2e3192","strokeWidth":5,"interpolate":"monotone"},"encoding":{}},
  {"data":{"name":"an"},"transform":[{"filter":"datum.p=='c'"}],"mark":{"type":"rule","color":"black","strokeWidth":2},"encoding":{"x2":{"field":"x2"}}},
  {"data":{"name":"an"},"transform":[{"filter":"datum.p=='c'"}],"mark":{"type":"point","shape":"M 0 0 L 2 -1 L 1.4 0 L 2 1 Z","filled":true,"color":"black","opacity":1,"size":550},"encoding":{}},
  {"data":{"name":"an"},"transform":[{"filter":"datum.p=='c'"}],"mark":{"type":"text","align":"left","baseline":"middle","fontSize":20},"encoding":{"x":{"field":"tx","type":"quantitative"},"text":{"field":"lab"}}},
  {"data":{"name":"lt"},"transform":[{"filter":"datum.p=='c'"}],"mark":{"type":"text","align":"left","baseline":"alphabetic","fontSize":18},"encoding":{"text":{"field":"lab"}}},
  {"data":{"name":"ti"},"transform":[{"filter":"datum.p=='c'"}],"mark":{"type":"text","align":"center","baseline":"alphabetic","fontSize":18},"encoding":{"text":{"field":"lab"}}}
 ]},
{"width":520,"height":305,
 "encoding":{
  "x":{"field":"x","type":"quantitative","scale":{"domain":[13.2,18.8],"nice":false,"zero":false},"axis":{"values":[14,15,16,17,18],"labelExpr":"'L'+datum.value","title":null}},
  "y":{"field":"t","type":"quantitative","scale":{"domain":[0,10],"reverse":true,"nice":false,"zero":false},"axis":{"values":[0,1,2,3,4,5,6,7,8,9,10],"title":"Time (s)"}}},
 "layer":[
  {"data":{"name":"tr"},"transform":[{"filter":"datum.p=='d'"},{"calculate":"datum.s+min(datum.a,0)","as":"x"}],"mark":{"type":"area","orient":"horizontal","color":"#9a9a9a","interpolate":"catmull-rom"},"encoding":{"x2":{"field":"s"},"detail":{"field":"s","type":"nominal"}}},
  {"data":{"name":"tr"},"transform":[{"filter":"datum.p=='d'"},{"calculate":"datum.s+datum.a","as":"x"}],"mark":{"type":"line","color":"black","strokeWidth":1,"interpolate":"catmull-rom"},"encoding":{"detail":{"field":"s","type":"nominal"},"order":{"field":"t","type":"quantitative"}}},
  {"data":{"name":"bl"},"transform":[{"filter":"datum.p=='d'"}],"mark":{"type":"line","color":"#2e3192","strokeWidth":5,"interpolate":"monotone"},"encoding":{}},
  {"data":{"name":"an"},"transform":[{"filter":"datum.p=='d'"}],"mark":{"type":"rule","color":"black","strokeWidth":2},"encoding":{"x2":{"field":"x2"}}},
  {"data":{"name":"an"},"transform":[{"filter":"datum.p=='d'"}],"mark":{"type":"point","shape":"M 0 0 L 2 -1 L 1.4 0 L 2 1 Z","filled":true,"color":"black","opacity":1,"size":550},"encoding":{}},
  {"data":{"name":"an"},"transform":[{"filter":"datum.p=='d'"}],"mark":{"type":"text","align":"left","baseline":"middle","fontSize":20},"encoding":{"x":{"field":"tx","type":"quantitative"},"text":{"field":"lab"}}},
  {"data":{"name":"lt"},"transform":[{"filter":"datum.p=='d'"}],"mark":{"type":"text","align":"left","baseline":"alphabetic","fontSize":18},"encoding":{"text":{"field":"lab"}}},
  {"data":{"name":"ti"},"transform":[{"filter":"datum.p=='d'"}],"mark":{"type":"text","align":"center","baseline":"alphabetic","fontSize":18},"encoding":{"text":{"field":"lab"}}}
 ]}
]
}
